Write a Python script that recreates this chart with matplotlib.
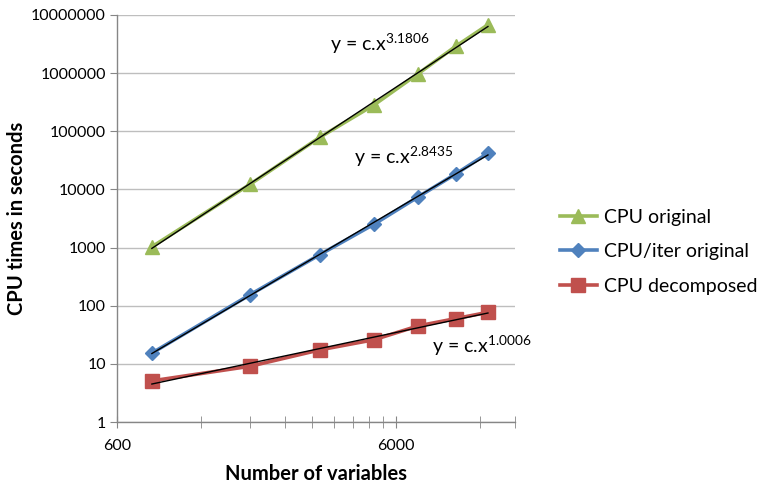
import numpy as np
import matplotlib
matplotlib.use("Agg")
import matplotlib.pyplot as plt
from matplotlib.ticker import FixedLocator, NullFormatter, FixedFormatter

plt.rcParams['font.family'] = ['Lato', 'DejaVu Sans']
plt.rcParams['mathtext.fontset'] = 'custom'
plt.rcParams['mathtext.rm'] = 'Lato'
plt.rcParams['mathtext.it'] = 'Lato'
plt.rcParams['mathtext.default'] = 'regular'

# ---- data ----
n_vars = [800, 1800, 3200, 5000, 7200, 9800, 12800]
cpu_original = [1030, 12300, 79000, 284000, 980000, 2880000, 6800000]
cpu_iter_original = [15.3, 155, 757, 2520, 7450, 18400, 42000]
cpu_decomposed = [5.1, 9.1, 17.4, 26, 45, 60, 77]
series_names = ["CPU original", "CPU/iter original", "CPU decomposed"]
exponent_labels = ["3.1806", "2.8435", "1.0006"]
y_ticks = [1, 10, 100, 1000, 10000, 100000, 1000000, 10000000]
x_major = [600, 6000]
x_minor = [1200, 1800, 2400, 3000, 3600, 4200, 4800, 5400, 12000, 16000]

colors = ["#9BBB59", "#4F81BD", "#C0504D"]
markers = ["^", "D", "s"]
msizes = [10, 7.5, 9.5]

W, H = 762, 484
fig = plt.figure(figsize=(W / 100, H / 100), dpi=100)
ax = fig.add_axes([117 / W, 1 - 422 / H, (515 - 117) / W, (422 - 15) / H])

ax.set_xscale('log')
ax.set_yscale('log')
ax.set_xlim(600, 16000)
ax.set_ylim(1, 10000000)

x = np.array(n_vars, dtype=float)
handles = []
for ys, c, m, ms, name in zip([cpu_original, cpu_iter_original, cpu_decomposed],
                              colors, markers, msizes, series_names):
    y = np.array(ys, dtype=float)
    h, = ax.plot(x, y, color=c, lw=2.6, marker=m, markersize=ms,
                 markeredgecolor=c, label=name, zorder=3)
    handles.append(h)
    p = np.polyfit(np.log(x), np.log(y), 1)
    xf = np.array([x[0], x[-1]])
    ax.plot(xf, np.exp(np.polyval(p, np.log(xf))), color='black', lw=1.0, zorder=4)

# axes styling
for s in ['top', 'right']:
    ax.spines[s].set_visible(False)
for s in ['left', 'bottom']:
    ax.spines[s].set_color('#868686')
    ax.spines[s].set_linewidth(1.0)

ax.yaxis.set_major_locator(FixedLocator(y_ticks))
ax.yaxis.set_major_formatter(FixedFormatter([str(v) for v in y_ticks]))
ax.yaxis.set_minor_locator(FixedLocator([]))
ax.yaxis.grid(True, which='major', color='#BEBEBE', lw=1.0)
ax.set_axisbelow(True)
ax.tick_params(axis='y', which='major', length=5, color='#868686',
               labelsize=11.5, pad=3)

ax.xaxis.set_major_locator(FixedLocator(x_major))
ax.xaxis.set_major_formatter(FixedFormatter([str(v) for v in x_major]))
ax.xaxis.set_minor_locator(FixedLocator(x_minor))
ax.xaxis.set_minor_formatter(NullFormatter())
ax.tick_params(axis='x', which='both', direction='inout', length=8,
               color='#868686', labelsize=11.5, pad=8)

ax.set_xlabel("Number of variables", fontsize=14.5, fontweight='bold', labelpad=8)
ax.set_ylabel("CPU times in seconds", fontsize=14.5, fontweight='bold', labelpad=3)

# trend equations
eq_pos = [(330, 44), (354, 157), (432, 346)]
for (px, py), e in zip(eq_pos, exponent_labels):
    fig.text(px / W, 1 - py / H, r"y = c.x$^{" + e + "}$", fontsize=14,
             ha='left', va='center')

leg = fig.legend(handles=handles, loc='upper left',
                 bbox_to_anchor=(552 / W, 1 - 201 / H), frameon=False,
                 fontsize=14, handlelength=1.9, labelspacing=0.9,
                 handletextpad=0.35, borderaxespad=0)

fig.savefig("out.png", dpi=100)
